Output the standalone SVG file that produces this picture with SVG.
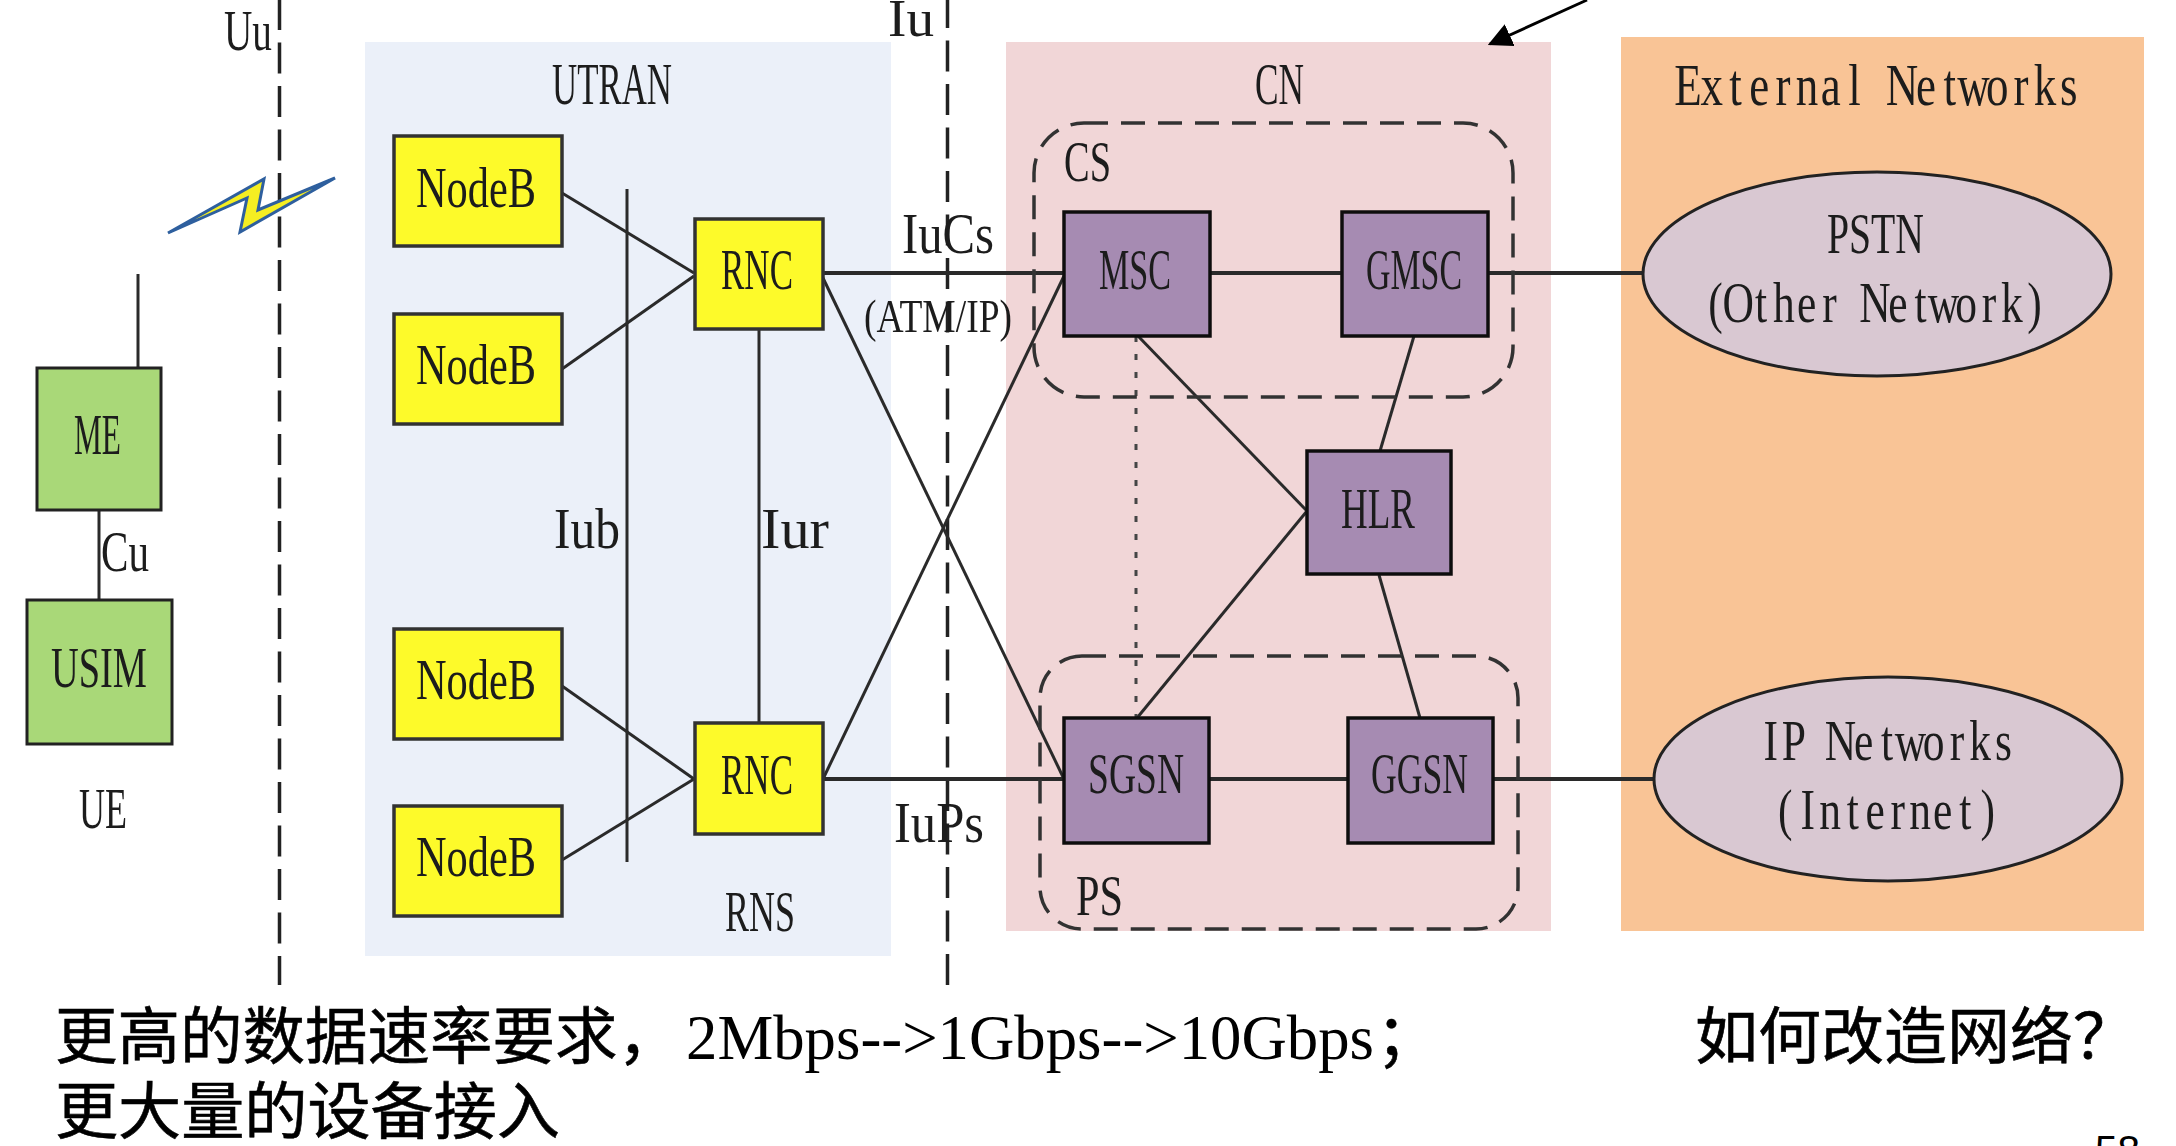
<svg xmlns="http://www.w3.org/2000/svg" width="2176" height="1146" viewBox="0 0 2176 1146">
<style>
.t{font-family:"Liberation Serif",serif;fill:#1c1c1c}
.big{font-size:58px}
.tall{font-size:60px}
.mid{font-size:46px}
.m{text-anchor:middle}
.cjk{font-family:"Noto Sans CJK SC",sans-serif;font-size:62px;fill:#000;stroke:#000;stroke-width:.6}
.lat{font-family:"Liberation Serif",serif;font-size:64px;fill:#000}
.num{font-family:"Liberation Sans",sans-serif;font-size:40px;fill:#000}
.y{fill:#fdfa2b;stroke:#333;stroke-width:3.5}
.g{fill:#a9d878;stroke:#222;stroke-width:3}
.p{fill:#a68bb2;stroke:#111;stroke-width:3.5}
.e{fill:#d9c8d2;stroke:#222;stroke-width:3}
.l{stroke:#2a2a2a;stroke-width:3;fill:none}
.h{stroke:#2a2a2a;stroke-width:4;fill:none}
.d{stroke:#222;stroke-width:3.5;fill:none;stroke-dasharray:31 12.5}
.box{stroke:#333;stroke-width:3.5;fill:none;stroke-dasharray:24 13}
</style>
<defs>
<marker id="ah" viewBox="0 0 10 10" refX="9" refY="5" markerWidth="8" markerHeight="8" orient="auto" markerUnits="strokeWidth"><path d="M0 0L10 5L0 10z" fill="#000"/></marker>
<filter id="soft" filterUnits="userSpaceOnUse" x="0" y="0" width="2176" height="1146"><feGaussianBlur stdDeviation="0.7"/></filter>
</defs>
<rect width="2176" height="1146" fill="#fff"/>
<g filter="url(#soft)">
<g id="regions">
<rect id="utran" x="365" y="42" width="526" height="914" fill="#ebf0f9"/>
<rect id="cn" x="1006" y="42" width="545" height="889" fill="#f1d6d7"/>
<rect id="external" x="1621" y="37" width="523" height="894" fill="#f9c496"/>
</g>
<g id="connectors">
<line class="d" x1="279.5" y1="-1" x2="279.5" y2="985"/>
<line class="d" x1="947.5" y1="-3" x2="947.5" y2="985"/>
<line class="l" x1="138" y1="274" x2="138" y2="370"/>
<line class="l" x1="99" y1="510" x2="99" y2="600"/>
<line class="l" x1="627" y1="189" x2="627" y2="862" stroke="#555"/>
<line class="l" x1="759" y1="329" x2="759" y2="722"/>
<line class="l" x1="562" y1="193" x2="694" y2="273"/>
<line class="l" x1="562" y1="369" x2="694" y2="276"/>
<line class="l" x1="562" y1="686" x2="694" y2="779"/>
<line class="l" x1="562" y1="860" x2="694" y2="779"/>
<line class="h" x1="823" y1="273" x2="1064" y2="273"/>
<line class="h" x1="1210" y1="273" x2="1342" y2="273"/>
<line class="h" x1="1488" y1="273" x2="1642" y2="273"/>
<line class="l" x1="823" y1="278" x2="1064" y2="779"/>
<line class="l" x1="823" y1="779" x2="1064" y2="276"/>
<line class="h" x1="823" y1="779" x2="1064" y2="779"/>
<line class="h" x1="1209" y1="779" x2="1348" y2="779"/>
<line class="h" x1="1493" y1="779" x2="1654" y2="779"/>
<line class="l" x1="1138" y1="336" x2="1307" y2="511"/>
<line class="l" x1="1137" y1="718" x2="1307" y2="511"/>
<line class="l" x1="1414" y1="336" x2="1380" y2="451"/>
<line class="l" x1="1379" y1="575" x2="1420" y2="718"/>
<line x1="1136" y1="336" x2="1136" y2="718" stroke="#444" stroke-width="3" stroke-dasharray="6 12"/>
<line x1="1587" y1="0" x2="1490" y2="44" stroke="#000" stroke-width="3" marker-end="url(#ah)"/>
</g>
<rect id="cs-group" class="box" x="1034" y="123" width="479" height="274" rx="50"/>
<rect id="ps-group" class="box" x="1040" y="656" width="478" height="273" rx="42"/>
<polygon id="radio-link" points="168,233 264,179 258,210 335,178 240,232 247,198" fill="#f5ee20" stroke="#2e5f9e" stroke-width="3"/>
<g id="ME"><rect class="g" x="37" y="368" width="124" height="142"/><text class="t big" x="74" y="454" textLength="47" lengthAdjust="spacingAndGlyphs">ME</text></g>
<g id="USIM"><rect class="g" x="27" y="600" width="145" height="144"/><text class="t big" x="51" y="687" textLength="96" lengthAdjust="spacingAndGlyphs">USIM</text></g>
<g id="NodeB1"><rect class="y" x="394" y="136" width="168" height="110"/><text class="t big" x="416" y="207" textLength="120" lengthAdjust="spacingAndGlyphs">NodeB</text></g>
<g id="NodeB2"><rect class="y" x="394" y="314" width="168" height="110"/><text class="t big" x="416" y="384" textLength="120" lengthAdjust="spacingAndGlyphs">NodeB</text></g>
<g id="NodeB3"><rect class="y" x="394" y="629" width="168" height="110"/><text class="t big" x="416" y="699" textLength="120" lengthAdjust="spacingAndGlyphs">NodeB</text></g>
<g id="NodeB4"><rect class="y" x="394" y="806" width="168" height="110"/><text class="t big" x="416" y="876" textLength="120" lengthAdjust="spacingAndGlyphs">NodeB</text></g>
<g id="RNC1"><rect class="y" x="695" y="219" width="128" height="110"/><text class="t big" x="721" y="289" textLength="72" lengthAdjust="spacingAndGlyphs">RNC</text></g>
<g id="RNC2"><rect class="y" x="695" y="723" width="128" height="111"/><text class="t big" x="721" y="794" textLength="72" lengthAdjust="spacingAndGlyphs">RNC</text></g>
<g id="MSC"><rect class="p" x="1064" y="212" width="146" height="124"/><text class="t big" x="1099" y="289" textLength="72" lengthAdjust="spacingAndGlyphs">MSC</text></g>
<g id="GMSC"><rect class="p" x="1342" y="212" width="146" height="124"/><text class="t big" x="1366" y="289" textLength="96" lengthAdjust="spacingAndGlyphs">GMSC</text></g>
<g id="HLR"><rect class="p" x="1307" y="451" width="144" height="123"/><text class="t big" x="1341" y="528" textLength="74" lengthAdjust="spacingAndGlyphs">HLR</text></g>
<g id="SGSN"><rect class="p" x="1064" y="718" width="145" height="125"/><text class="t big" x="1088" y="793" textLength="96" lengthAdjust="spacingAndGlyphs">SGSN</text></g>
<g id="GGSN"><rect class="p" x="1348" y="718" width="145" height="125"/><text class="t big" x="1371" y="793" textLength="97" lengthAdjust="spacingAndGlyphs">GGSN</text></g>
<g id="PSTN"><ellipse class="e" cx="1877" cy="274" rx="234" ry="102"/><text class="t big" x="1827" y="253" textLength="97" lengthAdjust="spacingAndGlyphs">PSTN</text><text class="t big m" transform="translate(1704,322) scale(.75,1)" x="15.2 45.6 76 106.4 136.8 167.2 197.6 228 258.4 288.8 319.2 349.6 380 410.4 440.8">(Other Network)</text></g>
<g id="IPNetworks"><ellipse class="e" cx="1888" cy="779" rx="234" ry="102"/><text class="t big m" transform="translate(1759,760) scale(.75,1)" x="15.5 46.6 77.6 108.7 139.7 170.8 201.8 232.9 263.9 295 326">IP Networks</text><text class="t big m" transform="translate(1774,829) scale(.75,1)" x="15 45 75 105 135 165 195 225 255 285">(Internet)</text></g>
<g id="labels">
<text class="t big" x="224" y="50" textLength="48" lengthAdjust="spacingAndGlyphs">Uu</text>
<text class="t" style="font-size:52px" x="888" y="36" textLength="46" lengthAdjust="spacingAndGlyphs">Iu</text>
<text class="t tall" x="552" y="104" textLength="120" lengthAdjust="spacingAndGlyphs">UTRAN</text>
<text class="t tall" x="1255" y="104" textLength="49" lengthAdjust="spacingAndGlyphs">CN</text>
<text class="t big" x="1064" y="181" textLength="47" lengthAdjust="spacingAndGlyphs">CS</text>
<text class="t tall m" transform="translate(1676,105) scale(.75,1)" x="15.9 47.6 79.4 111.1 142.8 174.6 206.3 238 269.7 301.5 333.2 364.9 396.7 428.4 460.1 491.9 523.6">External Networks</text>
<text class="t big" x="101" y="571" textLength="48" lengthAdjust="spacingAndGlyphs">Cu</text>
<text class="t big" x="79" y="828" textLength="48" lengthAdjust="spacingAndGlyphs">UE</text>
<text class="t big" x="554" y="548" textLength="66" lengthAdjust="spacingAndGlyphs">Iub</text>
<text class="t big" x="761" y="548" textLength="68" lengthAdjust="spacingAndGlyphs">Iur</text>
<text class="t big" x="902" y="253" textLength="92" lengthAdjust="spacingAndGlyphs">IuCs</text>
<text class="t mid" x="864" y="332" textLength="148" lengthAdjust="spacingAndGlyphs">(ATM/IP)</text>
<text class="t big" x="894" y="842" textLength="90" lengthAdjust="spacingAndGlyphs">IuPs</text>
<text class="t big" x="725" y="931" textLength="70" lengthAdjust="spacingAndGlyphs">RNS</text>
<text class="t big" x="1076" y="915" textLength="47" lengthAdjust="spacingAndGlyphs">PS</text>
</g>
</g>
<g id="caption">
<text class="cjk" x="55" y="1059" textLength="625" lengthAdjust="spacingAndGlyphs">更高的数据速率要求，</text>
<text x="686" y="1059"><tspan class="lat" textLength="688" lengthAdjust="spacingAndGlyphs">2Mbps--&gt;1Gbps--&gt;10Gbps</tspan><tspan class="cjk" dx="2">；</tspan></text>
<text class="cjk" x="55" y="1134" textLength="505" lengthAdjust="spacingAndGlyphs">更大量的设备接入</text>
<text class="cjk" x="1695" y="1059" textLength="441" lengthAdjust="spacingAndGlyphs">如何改造网络？</text>
<text class="num" x="2095" y="1164" textLength="45" lengthAdjust="spacingAndGlyphs">58</text>
</g>
</svg>
